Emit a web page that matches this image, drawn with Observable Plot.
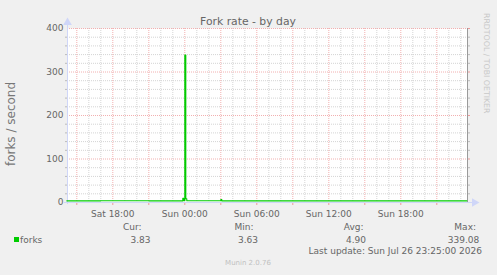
<!DOCTYPE html>
<html><head><meta charset="utf-8">
<script src="https://cdn.jsdelivr.net/npm/d3@7"></script>
<script src="https://cdn.jsdelivr.net/npm/@observablehq/plot@0.6"></script>
<style>
html,body{margin:0;padding:0;background:#F0F0F0;}
#wrap{position:relative;width:497px;height:275px;background:#F0F0F0;overflow:hidden}
#wrap svg{position:absolute;left:0;top:0}
</style></head><body><div id="wrap"></div>
<script>
// ---- data ----
const sampleTimes = [
  "2026-07-25T14:10:00Z","2026-07-25T17:00:00Z","2026-07-25T21:00:00Z",
  "2026-07-25T23:50:00Z","2026-07-25T23:55:00Z","2026-07-26T00:00:00Z",
  "2026-07-26T00:05:00Z","2026-07-26T00:10:00Z","2026-07-26T03:00:00Z",
  "2026-07-26T03:05:00Z","2026-07-26T09:00:00Z","2026-07-26T15:00:00Z",
  "2026-07-26T21:00:00Z","2026-07-26T23:25:00Z","2026-07-26T23:30:00Z"
];
const forksValues = [3.85,3.9,3.8,9.5,4.2,339.08,8.5,3.9,6.8,3.8,3.7,3.75,3.8,3.83,3.83];
const xDomain = ["2026-07-25T14:13:30Z","2026-07-26T23:33:30Z"];
const xLabelTicks = ["2026-07-25T18:00:00Z","2026-07-26T00:00:00Z","2026-07-26T06:00:00Z","2026-07-26T12:00:00Z","2026-07-26T18:00:00Z"];
const yMajorTicks = [0,100,200,300,400];
const yMinorTicks = [20,40,60,80,120,140,160,180,220,240,260,280,320,340,360,380];
const legendHeaders = ["Cur:","Min:","Avg:","Max:"];
const legendValues = ["3.83","3.63","4.90","339.08"];
const seriesName = "forks";
const titleText = "Fork rate - by day";
const yLabel = "forks / second";
const lastUpdate = "Last update: Sun Jul 26 23:25:00 2026";
const watermark = "RRDTOOL / TOBI OETIKER";
const footer = "Munin 2.0.76";

const data = sampleTimes.map((t,i)=>({t:new Date(t), v:forksValues[i]}));
const x0 = new Date(xDomain[0]), x1 = new Date(xDomain[1]);
const hours = d3.utcHour.range(x0, x1);
const minorHours = hours.filter(d=>d.getUTCHours()%3!==0);
const majorHours = hours.filter(d=>d.getUTCHours()%3===0);
const fmt = d3.utcFormat("%a %H:%M");

const GRID = "#d4d4d4", MGRID = "#f2b0b0", AXIS = "#CFD6F8", FONT = "#666666";

const chart = Plot.plot({
  width: 497, height: 275,
  marginLeft: 67, marginRight: 30, marginTop: 28, marginBottom: 73,
  style: {background: "transparent", fontFamily: "DejaVu Sans", fontSize: "9px", color: FONT},
  x: {type: "utc", domain: [x0, x1], label: null},
  y: {domain: [0, 400], label: null},
  marks: [
    Plot.frame({fill: "white", stroke: null}),
    Plot.ruleX(minorHours, {stroke: GRID, strokeDasharray: "1,1"}),
    Plot.ruleY(yMinorTicks, {stroke: GRID, strokeDasharray: "1,1"}),
    Plot.ruleX(majorHours, {stroke: MGRID, strokeDasharray: "1,1"}),
    Plot.ruleY(yMajorTicks.filter(d=>d>0), {stroke: MGRID, strokeDasharray: "1,1"}),
    Plot.axisX({ticks: majorHours, tickSize: 3, tickFormat: () => "", stroke: "#e99", label: null}),
    Plot.axisX({ticks: minorHours, tickSize: 1, tickFormat: () => "", stroke: "#bbb", label: null}),
    Plot.axisX({ticks: xLabelTicks.map(d=>new Date(d)), tickSize: 0, tickPadding: 8, tickFormat: fmt, fill: FONT, label: null}),
    Plot.axisY({ticks: yMajorTicks, tickSize: 0, tickPadding: 4, fill: FONT, label: null}),
    Plot.axisY({ticks: yMinorTicks, tickSize: 2, tickFormat: () => "", stroke: "#bbb", label: null}),
    Plot.axisY({ticks: yMinorTicks, anchor: "right", tickSize: 2, tickFormat: () => "", stroke: "#bbb", label: null}),
    Plot.axisY({ticks: yMajorTicks, anchor: "right", tickSize: 2, tickFormat: () => "", stroke: "#e99", label: null}),
    Plot.ruleX([x1], {stroke: "#9a9a9a"}),
    Plot.ruleY([0], {stroke: AXIS, insetLeft: -3, insetRight: -6}),
    Plot.ruleX([x0], {stroke: AXIS, insetTop: -6, insetBottom: -2}),
    Plot.dot([0], {frameAnchor: "top-left", dy: -6, symbol: "triangle", r: 3.2, fill: AXIS, stroke: null}),
    Plot.dot([0], {frameAnchor: "bottom-right", dx: 7, symbol: "triangle", r: 3.2, fill: AXIS, stroke: null, rotate: 90}),
    Plot.line(data, {x: "t", y: "v", curve: "step-after", stroke: "#00CC00", strokeWidth: 1.1})
  ]
});
document.getElementById("wrap").appendChild(chart);

// ---- titles / legend overlay ----
const svg = d3.select("#wrap").append("svg").attr("width",497).attr("height",275)
  .style("font-family","DejaVu Sans").style("pointer-events","none");
function txt(s, x, y, opts={}) {
  const t = svg.append("text").text(s).attr("x",x).attr("y",y)
    .attr("fill", opts.fill||FONT).attr("font-size", opts.size||9)
    .attr("text-anchor", opts.anchor||"start");
  if (opts.transform) t.attr("transform", opts.transform).attr("x",0).attr("y",0);
  return t;
}
txt(titleText, 248, 25, {anchor:"middle", size:10.8});
txt(yLabel, 0, 0, {anchor:"middle", size:12, fill:"#777", transform:"translate(14.5,124) rotate(-90)"});
txt(watermark, 0, 0, {size:7.8, fill:"#c8c8c8", transform:"translate(484,13) rotate(90)"});
const hdrX = [141.5, 253.5, 363.5, 476];
const valX = [150.5, 258, 366, 479.3];
legendHeaders.forEach((h,i)=>txt(h, hdrX[i], 230, {anchor:"end"}));
legendValues.forEach((v,i)=>txt(v, valX[i], 243, {anchor:"end"}));
svg.append("rect").attr("x",14).attr("y",237).attr("width",5).attr("height",5).attr("fill","#00CC00");
txt(seriesName, 20, 243);
txt(lastUpdate, 482, 254, {anchor:"end"});
txt(footer, 248, 265, {anchor:"middle", size:7, fill:"#c0c0c0"});
</script></body></html>
